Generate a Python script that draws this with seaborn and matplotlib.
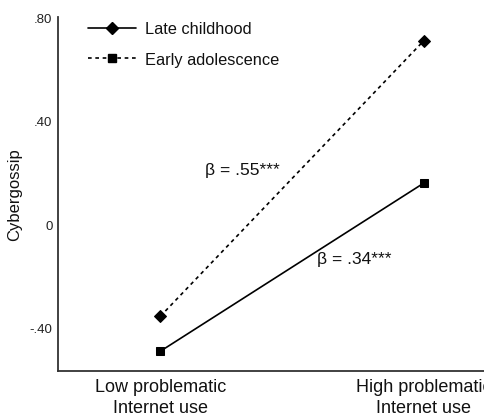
import pandas as pd
import seaborn as sns
import matplotlib.pyplot as plt
from matplotlib.lines import Line2D

# data
niveis = ['Low problematic\nInternet use', 'High problematic\nInternet use']
late_childhood = [-0.49, 0.16]
early_adolescence = [-0.355, 0.71]
grupos = ['Late childhood', 'Early adolescence']
betas = ['β = .34***', 'β = .55***']
yticks = [-0.40, 0.0, 0.40, 0.80]
ytick_labels = ['-.40', '0', '.40', '.80']

sns.set_theme(style='white')
plt.rcParams['font.family'] = ['Liberation Sans', 'DejaVu Sans']

dados = pd.DataFrame({
    'x': [0, 1, 0, 1],
    'y': late_childhood + early_adolescence,
    'grupo': [grupos[0]] * 2 + [grupos[1]] * 2,
})

fig = plt.figure(figsize=(4.85, 4.14), dpi=100)
ax = fig.add_axes([58 / 485, 42.3 / 414, 445 / 485, 353.4 / 414])

sns.lineplot(data=dados, x='x', y='y', style='grupo', color='black',
             markers={grupos[0]: 's', grupos[1]: 'D'},
             dashes={grupos[0]: '', grupos[1]: (2.2, 2.2)},
             markersize=6, linewidth=1.2, markeredgecolor='black',
             legend=False, ax=ax)

ax.set_xlim(-0.388, 1.30)
ax.set_ylim(-0.565, 0.80)
ax.set_xticks([0, 1])
ax.set_xticklabels(niveis, fontsize=13, color='#111111', linespacing=1.3)
ax.set_yticks(yticks)
ax.set_yticklabels(ytick_labels, fontsize=9.5, color='#222222')
ax.tick_params(axis='y', direction='inout', length=6, width=1.0, color='#333333', pad=1)
ax.tick_params(axis='x', length=0, pad=5)
ax.set_xlabel('')
ax.set_ylabel('Cybergossip', fontsize=12, color='#111111', labelpad=5)

for lado in ['top', 'right']:
    ax.spines[lado].set_visible(False)
for lado in ['left', 'bottom']:
    ax.spines[lado].set_color('#333333')
    ax.spines[lado].set_linewidth(1.3)

# anotações dos betas
ax.text(0.171, 0.214, betas[1], fontsize=12.5, va='center', ha='left', color='#111111')
ax.text(0.596, -0.133, betas[0], fontsize=12.5, va='center', ha='left', color='#111111')

# legenda manual (como no original)
handles = [
    Line2D([], [], color='black', lw=1.2, marker='D', markersize=6),
    Line2D([], [], color='black', lw=1.2, ls=(0, (2.2, 2.2)), marker='s', markersize=5.5),
]
ax.legend(handles, grupos, loc='upper left', bbox_to_anchor=(0.035, 1.03),
          frameon=False, fontsize=11.8, handlelength=2.9, handletextpad=0.55,
          labelspacing=0.95, labelcolor='#111111')

fig.savefig('out.png', dpi=100)
